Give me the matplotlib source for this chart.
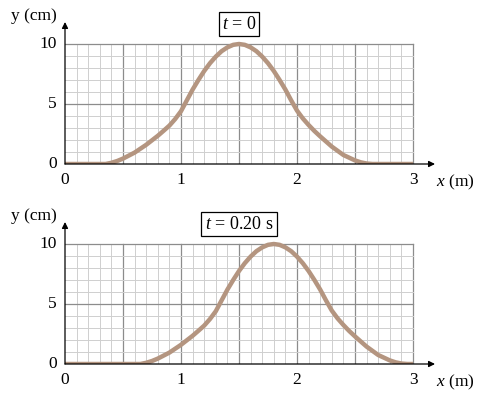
import matplotlib
matplotlib.use("Agg")
import matplotlib.pyplot as plt

plt.rcParams['font.family'] = ['Liberation Serif', 'DejaVu Serif']
plt.rcParams['mathtext.fontset'] = 'custom'
plt.rcParams['mathtext.rm'] = 'Liberation Serif'
plt.rcParams['mathtext.it'] = 'Liberation Serif:italic'

# wave pulse (x in m, y in cm)
x_pos = [0.0, 0.1, 0.2, 0.3, 0.35, 0.4, 0.45, 0.5, 0.6, 0.7, 0.8, 0.85, 0.9, 0.95, 1.0,
         1.05, 1.1, 1.15, 1.2, 1.25, 1.3, 1.35, 1.4, 1.45, 1.5, 1.55, 1.6, 1.65, 1.7,
         1.75, 1.8, 1.85, 1.9, 1.95, 2.0, 2.05, 2.1, 2.15, 2.2, 2.3, 2.4, 2.5, 2.55, 2.6,
         2.65, 2.7, 2.8, 2.9, 3.0]
y_t0 = [0, 0, 0, 0, 0.0, 0.1, 0.25, 0.45, 0.95, 1.6, 2.35, 2.77, 3.2, 3.75, 4.4,
        5.3, 6.2, 7.0, 7.75, 8.4, 8.95, 9.4, 9.72, 9.93, 10.0, 9.93, 9.72, 9.4, 8.95,
        8.4, 7.75, 7.0, 6.2, 5.3, 4.45, 3.8, 3.25, 2.75, 2.3, 1.45, 0.75, 0.3, 0.14, 0.04,
        0.0, 0, 0, 0, 0]
x_pos2 = [0.0, 0.2, 0.4, 0.6, 0.65, 0.7, 0.75, 0.8, 0.9, 1.0, 1.1, 1.15, 1.2, 1.25, 1.3,
          1.35, 1.4, 1.45, 1.5, 1.55, 1.6, 1.65, 1.7, 1.75, 1.8, 1.85, 1.9, 1.95, 2.0,
          2.05, 2.1, 2.15, 2.2, 2.25, 2.3, 2.35, 2.4, 2.45, 2.5, 2.6, 2.7, 2.8, 2.85, 2.9,
          2.95, 3.0]
y_t20 = [0, 0, 0, 0, 0.0, 0.1, 0.25, 0.45, 0.95, 1.6, 2.35, 2.77, 3.2, 3.75, 4.4,
         5.3, 6.2, 7.0, 7.75, 8.4, 8.95, 9.4, 9.72, 9.93, 10.0, 9.93, 9.72, 9.4, 8.95,
         8.4, 7.75, 7.0, 6.2, 5.3, 4.45, 3.8, 3.25, 2.75, 2.3, 1.45, 0.75, 0.3, 0.14, 0.04,
         0.0, 0]
labels = ['$t$ = 0', '$t$ = 0.20 s']

PX_X = 116.0   # px per metre
PX_Y = 12.0    # px per cm

fig = plt.figure(figsize=(4.84, 3.95), dpi=100)
ax1 = fig.add_axes([65/484, 1-164/395, 370/484, 142/395])
ax2 = fig.add_axes([65/484, 1-364/395, 370/484, 142/395])

def draw_panel(ax, xs, ys, label):
    xmax = 370/PX_X
    ymax = 142/PX_Y
    ax.set_xlim(0, xmax)
    ax.set_ylim(0, ymax)
    for s in ax.spines.values():
        s.set_visible(False)
    ax.set_xticks([])
    ax.set_yticks([])
    # graph paper
    for i in range(1, 31):
        dark = (i % 5 == 0)
        ax.plot([i/10, i/10], [0, 10], color='#8c8c8c' if dark else '#cfcfcf',
                lw=0.9 if dark else 0.7, zorder=1)
    for j in range(1, 11):
        dark = (j % 5 == 0)
        ax.plot([0, 3], [j, j], color='#8c8c8c' if dark else '#cfcfcf',
                lw=0.9 if dark else 0.7, zorder=1)
    # axes with arrows
    ax.annotate('', xy=(xmax, 0), xytext=(0, 0),
                arrowprops=dict(arrowstyle='-|>', color='black', lw=0.9,
                                mutation_scale=9, shrinkA=0, shrinkB=0), zorder=3)
    ax.annotate('', xy=(0, ymax), xytext=(0, 0),
                arrowprops=dict(arrowstyle='-|>', color='black', lw=0.9,
                                mutation_scale=9, shrinkA=0, shrinkB=0), zorder=3)
    ax.plot(xs, ys, color='#b49580', lw=3.2, solid_capstyle='butt',
            solid_joinstyle='round', zorder=2)
    for v in [0, 1, 2, 3]:
        ax.text(v, -0.7, str(v), ha='center', va='top', fontsize=12.5)
    for v in [0, 5, 10]:
        ax.text(-0.07, v, str(v), ha='right', va='center', fontsize=12.5)
    ax.text(-0.07, 12.3, 'y (cm)', ha='right', va='center', fontsize=12.5, clip_on=False)
    ax.text(3.2, -0.7, '$x$ (m)', ha='left', va='top', fontsize=12.5, clip_on=False)
    ax.text(1.5, 11.65, label, ha='center', va='center', fontsize=13,
            bbox=dict(boxstyle='square,pad=0.18', fc='white', ec='black', lw=0.9))

draw_panel(ax1, x_pos, y_t0, labels[0])
draw_panel(ax2, x_pos2, y_t20, labels[1])

fig.savefig('out.png', dpi=100)
